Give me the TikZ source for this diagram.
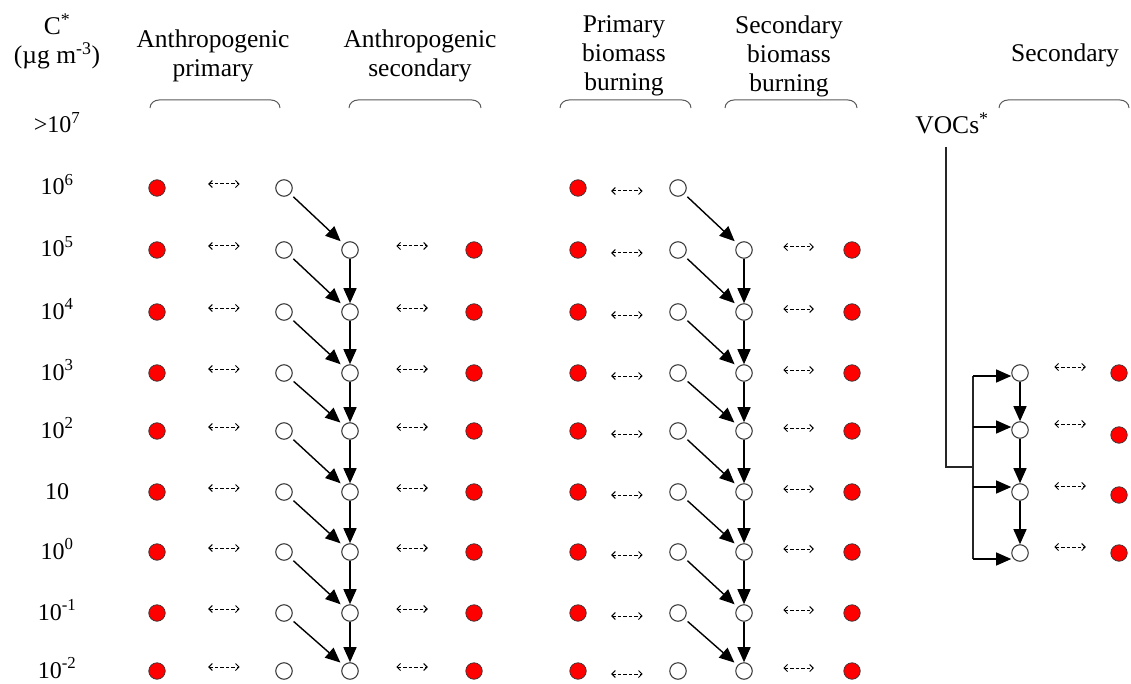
\documentclass[tikz,border=0pt]{standalone}
\usepackage{fontspec}
\setmainfont{Liberation Serif}
\usetikzlibrary{arrows.meta}
\begin{document}
\begin{tikzpicture}[x=1pt,y=-1pt,
  hd/.style={font=\fontsize{25.5}{29}\selectfont, align=center, inner sep=0pt},
  rl/.style={font=\fontsize{24}{28}\selectfont, inner sep=0pt, anchor=base},
  odot/.style={circle, fill=white, draw=black!75, line width=1.1pt, minimum size=16.5pt, inner sep=0pt},
  rdot/.style={circle, fill=red, draw=black!80, line width=0.7pt, minimum size=16.5pt, inner sep=0pt},
  flow/.style={-{Triangle[length=15pt,width=13pt]}, line width=1.4pt},
  eqm/.style={{Straight Barb[length=3.5pt,width=7pt]}-{Straight Barb[length=3.5pt,width=7pt]}, dash pattern=on 3.5pt off 2pt, line width=1pt},
  brc/.style={line width=1pt, draw=black!65},
  bus/.style={line width=1.1pt, draw=black!85}
]
\useasboundingbox (0,0) rectangle (1131,684);

% header labels
\node[hd] (cstar) at (57,41) {C\textsuperscript{*}\\(µg m\textsuperscript{-3})};
\node[hd] (hap) at (213,56) {Anthropogenic\\primary};
\node[hd] (has) at (420,56) {Anthropogenic\\secondary};
\node[hd] (hbp) at (624,56) {Primary\\biomass\\burning};
\node[hd] (hbs) at (789,56) {Secondary\\biomass\\burning};
\node[hd] (hsv) at (1065,55) {Secondary};

% braces
\foreach \a/\b in {150/280, 349/481, 560/691, 725/857, 999/1129}{
  \draw[brc] (\a,108) to[out=90,in=180] (\a+9,100) -- (\b-9,100) to[out=0,in=90] (\b,108);
}

% row labels
\node[rl] (l0) at (57,133) {>10\textsuperscript{7}};
\foreach \i/\y/\t in {1/188/10\textsuperscript{6}, 2/250/10\textsuperscript{5}, 3/312/10\textsuperscript{4},
  4/373/10\textsuperscript{3}, 5/431/10\textsuperscript{2}, 6/492/10, 7/552/10\textsuperscript{0},
  8/613/10\textsuperscript{-1}, 9/671/10\textsuperscript{-2}}{
  \node[rl] (l\i) at (57,\y+7) {\t};
}

% dots
\foreach \i/\y in {1/188,2/250,3/312,4/373,5/431,6/492,7/552,8/613,9/671}{
  \node[rdot] (ap\i) at (157,\y) {};
  \node[odot] (ao\i) at (284,\y) {};
  \node[rdot] (bp\i) at (578,\y) {};
  \node[odot] (bo\i) at (678,\y) {};
}
\foreach \i/\y in {2/250,3/312,4/373,5/431,6/492,7/552,8/613,9/671}{
  \node[odot] (as\i) at (350,\y) {};
  \node[rdot] (ar\i) at (474,\y) {};
  \node[odot] (bs\i) at (744,\y) {};
  \node[rdot] (br\i) at (852,\y) {};
}

% equilibria
\foreach \i in {1,...,9}{
  \draw[eqm, shorten <=42.5pt, shorten >=35.5pt] ([yshift=4pt]ap\i.east) -- ([yshift=4pt]ao\i.west);
  \draw[eqm, shorten <=24.5pt, shorten >=26.5pt] ([yshift=-3pt]bp\i.east) -- ([yshift=-3pt]bo\i.west);
}
\foreach \i in {2,...,9}{
  \draw[eqm, shorten <=37.5pt, shorten >=37.5pt] ([yshift=4pt]as\i.east) -- ([yshift=4pt]ar\i.west);
  \draw[eqm, shorten <=30.5pt, shorten >=29.5pt] ([yshift=3pt]bs\i.east) -- ([yshift=3pt]br\i.west);
}

% reactions
\foreach \i [evaluate=\i as \j using int(\i+1)] in {1,...,8}{
  \draw[flow, shorten <=4pt, shorten >=4pt] (ao\i) -- (as\j);
  \draw[flow, shorten <=4pt, shorten >=4pt] (bo\i) -- (bs\j);
}
\foreach \i [evaluate=\i as \j using int(\i+1)] in {2,...,8}{
  \draw[flow] (as\i) -- (as\j);
  \draw[flow] (bs\i) -- (bs\j);
}

% secondary from VOCs
\node[hd, anchor=base] (voc) at (952,134) {VOCs\textsuperscript{*}};
\foreach \i/\y/\r/\a in {1/373/373/376, 2/430/435/427, 3/492/495/487, 4/553/553/559}{
  \node[odot] (s\i) at (1020,\y) {};
  \node[rdot] (sr\i) at (1119,\r) {};
  \coordinate (b\i) at (973,\a);
  \draw[eqm, shorten <=25.5pt, shorten >=24.5pt] ([yshift=6pt]s\i.east) -- ([yshift=6pt]s\i.east -| sr\i.west);
}
\coordinate (vtop) at (946,147);
\coordinate (vbot) at (946,467);
\draw[bus] (vtop) -- (vbot) -- (vbot -| b1);
\draw[bus] (b1) -- (b4);
\foreach \i in {1,...,4}{
  \draw[flow, line width=1.1pt] (b\i) -- (b\i -| s\i.west);
}
\foreach \i [evaluate=\i as \j using int(\i+1)] in {1,...,3}{
  \draw[flow] (s\i) -- (s\j);
}
\end{tikzpicture}
\end{document}
